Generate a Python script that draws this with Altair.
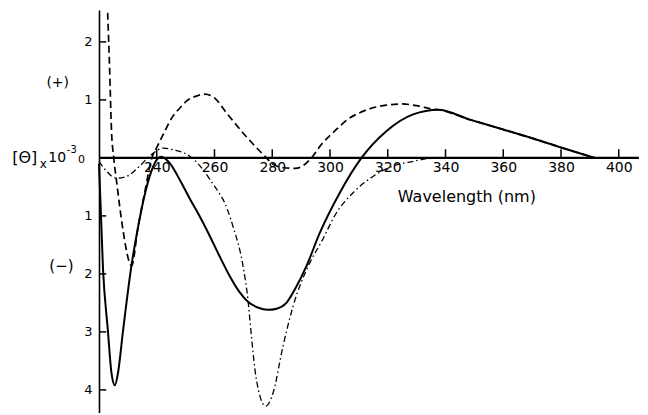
import altair as alt
import pandas as pd

# ---- data (wavelength in nm, [theta] x 10^-3) ----
solid_wl = [220.0, 221.4, 223.1, 224.3, 225.5, 226.6, 228.3, 231.2, 233.5, 236.0, 238.0,
            239.3, 241.5, 244.5, 248.0, 251.4, 255.0, 258.4, 262.0, 265.3, 268.5, 271.6,
            275.0, 278.5, 281.5, 284.9, 288.0, 291.8, 296.5, 303.4, 310.9, 319.5, 328.8,
            337.5, 348.4, 360.0, 370.0, 380.0, 391.7]
solid_val = [-0.1, -1.93, -2.99, -3.7, -3.92, -3.7, -2.99, -1.87, -1.2, -0.6, -0.25,
             -0.09, 0.02, -0.09, -0.38, -0.7, -1.02, -1.35, -1.72, -2.04, -2.3, -2.48,
             -2.58, -2.62, -2.6, -2.5, -2.25, -1.87, -1.29, -0.6, 0.0, 0.46, 0.75,
             0.83, 0.66, 0.49, 0.34, 0.18, 0.0]

dashed_wl = [223.0, 223.7, 224.3, 225.1, 226.0, 228.3, 230.4, 231.3, 233.5, 236.0, 238.3,
             239.9, 242.2, 245.6, 248.0, 250.3, 254.0, 256.6, 260.1, 264.1, 269.9, 277.4,
             280.0, 284.0, 288.0, 291.8, 293.6, 297.0, 302.2, 306.0, 310.3, 319.5, 325.0,
             330.0, 335.7, 337.5, 348.4, 360.0, 370.0, 380.0, 391.7]
dashed_val = [2.5, 1.5, 0.5, 0.0, -0.37, -1.24, -1.78, -1.86, -1.2, -0.55, 0.0,
              0.17, 0.4, 0.72, 0.86, 0.98, 1.07, 1.1, 1.03, 0.78, 0.43, 0.03,
              -0.1, -0.17, -0.18, -0.09, 0.0, 0.23, 0.49, 0.66, 0.78, 0.91, 0.93,
              0.9, 0.84, 0.83, 0.66, 0.49, 0.34, 0.18, 0.0]

dashdot_wl = [220.0, 222.6, 226.0, 229.5, 234.1, 238.2, 242.5, 245.6, 251.4, 256.3, 258.4,
              261.8, 263.0, 266.4, 269.9, 271.6, 272.8, 274.5, 277.7, 280.3, 283.7, 287.2,
              293.0, 297.0, 302.2, 308.0, 314.9, 321.8, 328.8, 334.5, 345.0]
dashdot_val = [-0.06, -0.23, -0.35, -0.32, -0.14, 0.06, 0.17, 0.14, 0.03, -0.22, -0.37,
               -0.62, -0.72, -1.18, -1.87, -2.45, -3.08, -3.82, -4.28, -4.05, -3.25, -2.56,
               -1.81, -1.45, -0.95, -0.6, -0.32, -0.14, -0.06, -0.01, 0.0]

x_ticks = [240, 260, 280, 300, 320, 340, 360, 380, 400]
y_ticks = [2, 1, -1, -2, -3, -4]

# ---- layout ----
X0, X1 = 220, 407
Y0, Y1 = -4.4, 2.55
PX_NM = 2.8875
PX_UNIT = 58.0
W = (X1 - X0) * PX_NM
H = (Y1 - Y0) * PX_UNIT
Y_ZERO_FROM_BOTTOM = (0 - Y0) * PX_UNIT
FONT = "DejaVu Sans"

xs = alt.Scale(domain=[X0, X1], nice=False, zero=False)
ys = alt.Scale(domain=[Y0, Y1], nice=False, zero=False)

XA = alt.Axis(
    values=x_ticks, offset=-Y_ZERO_FROM_BOTTOM, domain=False, ticks=False,
    grid=False, labelFont=FONT, labelFontSize=14, labelColor="black",
    labelPadding=3, title=None, labelFlush=False, labelOverlap=False)
YA = alt.Axis(
    values=y_ticks, labelExpr="abs(datum.value)", ticks=False, grid=False,
    domain=True, domainColor="black", domainWidth=1.6, labelFont=FONT,
    labelFontSize=13, labelColor="black", labelPadding=7, title=None,
    labelFlush=False, labelOverlap=False)


def X(field):
    return alt.X(field, scale=xs, axis=XA)


def Y(field):
    return alt.Y(field, scale=ys, axis=YA)


def curve(wl, val, dash, width):
    df = pd.DataFrame({"wl": wl, "val": val})
    mk = dict(color="black", strokeWidth=width, interpolate="monotone")
    if dash:
        mk["strokeDash"] = dash
    return alt.Chart(df).mark_line(**mk).encode(x=X("wl:Q"), y=Y("val:Q"))


solid = curve(solid_wl, solid_val, None, 2.0)
dashed = curve(dashed_wl, dashed_val, [7, 4], 1.7)
dashdot = curve(dashdot_wl, dashdot_val, [6, 3, 1.5, 3], 1.3)

# x axis line at zero
xline = alt.Chart(pd.DataFrame({"a": [0]})).transform_calculate(
    xa=str(X0), xb=str(X1), yz="0"
).mark_rule(color="black", strokeWidth=2.2).encode(
    x=X("xa:Q"), x2="xb:Q", y=Y("yz:Q"),
)

# x ticks (pointing up from the zero line)
xt = alt.Chart(pd.DataFrame({"t": x_ticks})).transform_calculate(
    y0="0", y1="0.15"
).mark_rule(color="black", strokeWidth=1.5).encode(
    x=X("t:Q"), y=Y("y0:Q"), y2="y1:Q",
)

# y ticks (pointing right from the y axis)
yt = alt.Chart(pd.DataFrame({"v": y_ticks})).transform_calculate(
    x0=str(X0), x1=str(X0 + 2.5)
).mark_rule(color="black", strokeWidth=1.5).encode(
    y=Y("v:Q"), x=X("x0:Q"), x2="x1:Q",
)

annots = pd.DataFrame({
    "label": ["(+)", "(\u2212)", "[\u0398]", "x", "10", "-3", "0", "Wavelength (nm)"],
    "wl": [205.7, 207.0, 194.3, 200.7, 205.5, 210.6, 213.9, 347.4],
    "val": [1.29, -1.86, 0.0, -0.1, 0.0, 0.13, -0.03, -0.68],
    "fs": [14, 15, 16, 12, 14, 10, 11, 16],
})
text = alt.Chart(annots).mark_text(
    color="black", font=FONT, align="center", baseline="middle"
).encode(
    x=X("wl:Q"), y=Y("val:Q"),
    text="label:N",
    size=alt.Size("fs:Q", scale=None, legend=None),
)

chart = alt.layer(xline, xt, yt, dashdot, dashed, solid, text).properties(
    width=W, height=H,
    autosize=alt.AutoSizeParams(type="none"),
    padding={"left": 91, "top": 2, "right": 0, "bottom": 0},
    background="white",
).configure_view(stroke=None)

chart.save("out.html", embed_options={"renderer": "svg", "actions": False})
